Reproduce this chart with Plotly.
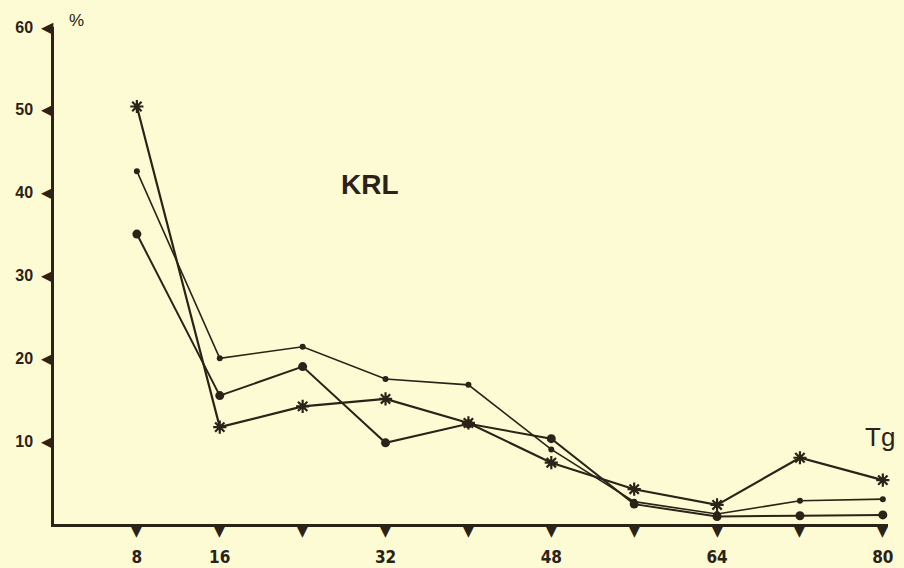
import plotly.graph_objects as go

# Data
x_vals = [8, 16, 24, 32, 40, 48, 56, 64, 72, 80]
series_small_dot = [42.6, 20.0, 21.4, 17.5, 16.8, 9.0, 2.7, 1.2, 2.8, 3.0]
series_big_dot = [35.0, 15.5, 19.0, 9.8, 12.1, 10.3, 2.4, 0.9, 1.0, 1.1]
series_star = [50.4, 11.7, 14.2, 15.1, 12.2, 7.4, 4.2, 2.3, 8.0, 5.3]

x_tick_vals = [8, 16, 24, 32, 40, 48, 56, 64, 72, 80]
x_tick_labels = ["8", "16", "", "32", "", "48", "", "64", "", "80"]
y_tick_vals = [10, 20, 30, 40, 50, 60]
y_tick_labels = ["10", "20", "30", "40", "50", "60"]

INK = "#2b2218"
BG = "#FDFBD3"

fig = go.Figure()

fig.add_trace(go.Scatter(x=x_vals, y=series_small_dot, mode="lines+markers",
                         line=dict(color=INK, width=1.6),
                         marker=dict(symbol="circle", size=6, color=INK),
                         cliponaxis=False, showlegend=False))
fig.add_trace(go.Scatter(x=x_vals, y=series_big_dot, mode="lines+markers",
                         line=dict(color=INK, width=2),
                         marker=dict(symbol="circle", size=9, color=INK),
                         cliponaxis=False, showlegend=False))
fig.add_trace(go.Scatter(x=x_vals, y=series_star, mode="lines+markers",
                         line=dict(color=INK, width=2.2),
                         marker=dict(symbol="asterisk-open", size=11,
                                     line=dict(color=INK, width=2.2)),
                         cliponaxis=False, showlegend=False))

# Triangular tick marks drawn as annotations anchored to the axes
for xv in x_tick_vals:
    fig.add_annotation(text="▼", xref="x", yref="y", x=xv, y=0,
                       xanchor="center", yanchor="top", yshift=3, showarrow=False,
                       font=dict(family="DejaVu Sans", size=14, color=INK))
for yv in y_tick_vals:
    fig.add_annotation(text="◀", xref="x", yref="y", x=0, y=yv,
                       xanchor="right", yanchor="middle", xshift=2, showarrow=False,
                       font=dict(family="DejaVu Sans", size=16, color=INK))

fig.update_xaxes(range=[0, 80.5], showgrid=False, zeroline=False, automargin=False,
                 showline=True, linecolor=INK, linewidth=2.5,
                 tickmode="array", tickvals=x_tick_vals, ticktext=x_tick_labels,
                 ticks="", ticklabelstandoff=16,
                 tickfont=dict(family="Liberation Sans Narrow, DejaVu Sans Condensed, sans-serif",
                               size=17, color=INK, weight="bold"))
fig.update_yaxes(range=[0, 60], showgrid=False, zeroline=False, automargin=False,
                 showline=True, linecolor=INK, linewidth=2.5,
                 tickmode="array", tickvals=y_tick_vals, ticktext=y_tick_labels,
                 ticks="", ticklabelstandoff=15,
                 tickfont=dict(family="Liberation Sans, Arial, sans-serif",
                               size=16, color=INK, weight="bold"))

fig.add_annotation(text="%", xref="paper", yref="paper", x=0.027, y=1.0,
                   xanchor="center", yanchor="middle", showarrow=False, yshift=7,
                   font=dict(family="Liberation Sans, Arial, sans-serif", size=17, color=INK))
fig.add_annotation(text="<b>KRL</b>", xref="x", yref="y", x=30.5, y=41,
                   xanchor="center", yanchor="middle", showarrow=False,
                   font=dict(family="Liberation Sans, Arial, sans-serif", size=28, color=INK))
fig.add_annotation(text="Tg", xref="x", yref="y", x=79.7, y=10.5,
                   xanchor="center", yanchor="middle", showarrow=False,
                   font=dict(family="Liberation Sans, Arial, sans-serif", size=26, color=INK))

fig.update_layout(width=904, height=568, paper_bgcolor=BG, plot_bgcolor=BG,
                  margin=dict(l=54, r=16, t=27, b=44), showlegend=False)

fig.write_html("out.html", config={"displayModeBar": False},
               post_script="document.body.style.margin='0';document.body.style.background='%s';" % BG)
